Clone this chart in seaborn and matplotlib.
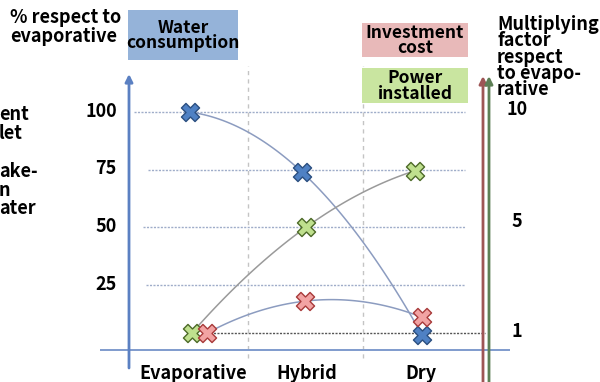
import numpy as np
import pandas as pd
import matplotlib
matplotlib.use("Agg")
import matplotlib.pyplot as plt
import seaborn as sns
from matplotlib.patches import Rectangle

# ---- data -------------------------------------------------------------
categories = ["Evaporative", "Hybrid", "Dry"]
water_consumption = [100, 74, 3.3]      # % respect to evaporative
power_installed = [4.2, 50, 74.5]       # plotted on the % scale
investment_cost = [4.2, 18, 11]         # plotted on the % scale
left_ticks = [25, 50, 75, 100]
right_tick_labels = ["1", "5", "10"]

# ---- layout -----------------------------------------------------------
W, H = 600, 382
X0, DX = 193.0, 114.0        # pixel x of first category, category spacing
Y0, DY = 342.7, 2.307        # pixel y of 0 %, pixels per %

def cx(px):
    return (px - X0) / DX

def vy(py):
    return (Y0 - py) / DY

def fx(px):
    return px / W

def fy(py):
    return 1 - py / H

right_tick_levels = [4.3, 52.0, 100.5]
dodge = {
    "Water consumption": [-0.03, -0.045, 0.01],
    "Power installed": [-0.01, -0.01, -0.055],
    "Investment cost": [0.125, -0.02, 0.01],
}
styles = {
    "Water consumption": dict(face="#4f81c4", edge="#2b4f80", line="#8c9cc0"),
    "Power installed": dict(face="#bfe08e", edge="#4d6a28", line="#9a9a9a"),
    "Investment cost": dict(face="#f2a3a3", edge="#a83a3a", line="#8c9cc0"),
}

series = {
    "Water consumption": water_consumption,
    "Power installed": power_installed,
    "Investment cost": investment_cost,
}
rows = []
for name, vals in series.items():
    for i, (cat, v) in enumerate(zip(categories, vals)):
        rows.append(dict(series=name, category=cat, x=i + dodge[name][i], value=v))
df = pd.DataFrame(rows)

sns.set_theme(style="white")
plt.rcParams["font.family"] = ["Noto Sans CJK KR", "DejaVu Sans"]
FS = 13

fig = plt.figure(figsize=(6, 3.82), dpi=100)
ax = fig.add_axes([0, 0, 1, 1])
ax.set_xlim(cx(0), cx(W))
ax.set_ylim(vy(H), vy(0))
ax.axis("off")

# horizontal grid lines
grid_start = {25: 146, 50: 143, 75: 148, 100: 134}
for t in left_ticks:
    ax.hlines(t, cx(grid_start[t]), cx(465), colors="#9fadc9", lw=1.0,
              linestyles=(0, (1.5, 1.0)), zorder=1)
# reference line for a factor of 1
ax.hlines(right_tick_levels[0], cx(210), cx(485), colors="#555555", lw=1.0,
          linestyles=(0, (1.5, 1.0)), zorder=1)
# vertical separators between categories
for sep in (0.485, 1.49):
    ax.vlines(sep, vy(358), vy(66), colors="#c4c4c4", lw=1.0,
              linestyles=(0, (3, 3)), zorder=1)

# bottom baseline
ax.hlines(vy(350), cx(100), cx(510), colors="#7f9bcd", lw=1.4, zorder=2)

# axis arrows
def arrow(px, py_bottom, py_top, color):
    ax.annotate("", xy=(cx(px), vy(py_top)), xytext=(cx(px), vy(py_bottom)),
                arrowprops=dict(arrowstyle="-|>", color=color, lw=2.0,
                                mutation_scale=11, shrinkA=0, shrinkB=0),
                zorder=3)

arrow(129, 368, 74, "#5b80c2")
arrow(483, 385, 76, "#9e5555")
arrow(489, 385, 76, "#5d7f55")

# smooth connecting curves through each series
for name in series:
    sub = df[df.series == name]
    coef = np.polyfit(sub.x, sub.value, 2)
    xs = np.linspace(sub.x.min(), sub.x.max(), 120)
    sns.lineplot(x=xs, y=np.polyval(coef, xs), ax=ax, color=styles[name]["line"],
                 lw=1.1, zorder=4, sort=False)

# markers
for name in series:
    sub = df[df.series == name]
    sns.scatterplot(data=sub, x="x", y="value", ax=ax, marker="X", s=170,
                    color=styles[name]["face"], edgecolor=styles[name]["edge"],
                    linewidth=1.0, zorder=5, legend=False)

bold = dict(fontweight="bold", color="black")

# left tick labels
for t in left_ticks:
    ax.text(cx(117), t + 0.3, str(t), ha="right", va="center", fontsize=FS, **bold)

# right tick labels
for lab, lev in zip(right_tick_labels, right_tick_levels):
    ax.text(cx(517), lev + 0.6, lab, ha="center", va="center", fontsize=FS, **bold)

# category labels
for i, cat in enumerate(categories):
    ax.text(i, vy(364), cat, ha="center", va="top", fontsize=FS, **bold)

# axis titles
fig.text(fx(10), fy(8), "% respect to\nevaporative", ha="left", va="top",
         fontsize=FS, linespacing=1.0, **bold)
fig.text(fx(497), fy(15), "Multiplying\nfactor\nrespect\nto evapo-\nrative",
         ha="left", va="top", fontsize=FS, linespacing=0.82, **bold)

# partially visible side notes
fig.text(fx(-1), fy(124), "ent\nlet", ha="left", va="center", fontsize=FS,
         linespacing=0.98, **bold)
fig.text(fx(-1), fy(190), "ake-\nn\nater", ha="left", va="center", fontsize=FS,
         linespacing=0.98, **bold)

# labelled boxes
def box(x0, y0, x1, y1, color, label):
    fig.patches.append(Rectangle((fx(x0), fy(y1)), fx(x1) - fx(x0), fy(y0) - fy(y1),
                                 transform=fig.transFigure, facecolor=color,
                                 edgecolor="none", zorder=0))
    fig.text(fx((x0 + x1) / 2), fy((y0 + y1) / 2 + 0.5), label, ha="center",
             va="center", fontsize=12.5, linespacing=0.85, **bold)

box(128, 10, 238, 60, "#95b3d9", "Water\nconsumption")
box(362, 23, 468, 57, "#e8b9b9", "Investment\ncost")
box(362, 68, 468, 103, "#c9e5a0", "Power\ninstalled")

fig.savefig("out.png", dpi=100)
